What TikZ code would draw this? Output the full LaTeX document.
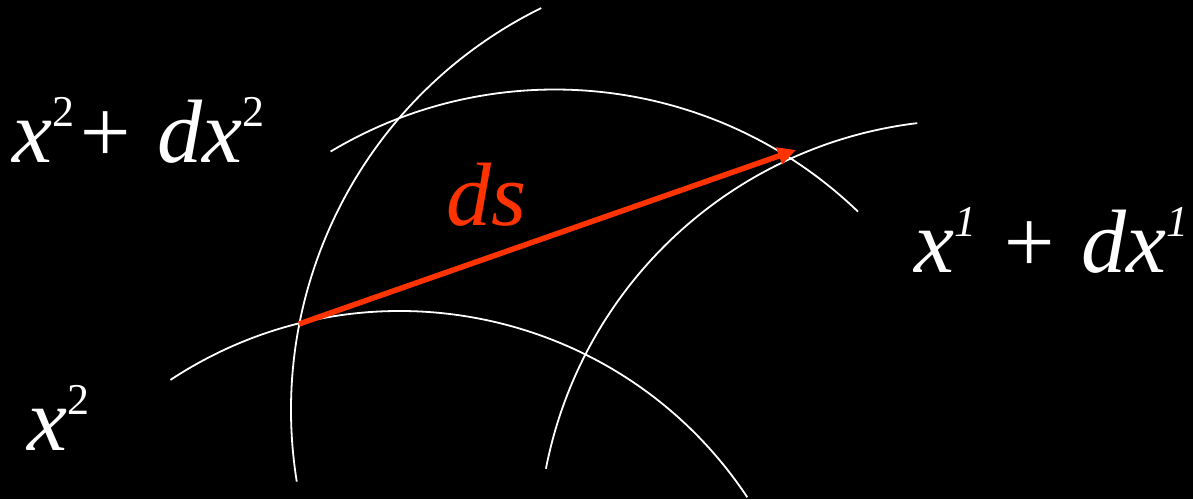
\documentclass[tikz,border=0pt]{standalone}
\usepackage{fontspec}
\setmainfont{Liberation Serif}
\usetikzlibrary{arrows.meta}
\definecolor{dsred}{RGB}{255,51,0}
\newcommand{\supr}[1]{\raisebox{36pt}{\fontsize{44}{44}\selectfont #1}}

\begin{document}
\begin{tikzpicture}[x=1pt, y=1pt,
    curve/.style={white, line width=1.8pt},
    lbl/.style={white, inner sep=0pt, anchor=base west, font=\fontsize{90}{100}\selectfont\itshape}]
    \fill[black] (0,0) rectangle (1193,499);
    \useasboundingbox (0,0) rectangle (1193,499);
    \draw[curve] (739,89) ++(116.2:448pt) arc[start angle=116.2, end angle=189.2, radius=448pt];
    \draw[curve] (969,-52) ++(96.9:431pt) arc[start angle=96.9, end angle=169, radius=431pt];
    \draw[curve] (555,-27.5) ++(120.9:437pt) arc[start angle=120.9, end angle=46.1, radius=437pt];
    \draw[curve] (400,-229) ++(123.4:417pt) arc[start angle=123.4, end angle=33.6, radius=417pt];
    \coordinate (P) at (299,175);
    \coordinate (Q) at (796,349);
    \draw[dsred, line width=5.5pt, -{Triangle[length=18pt, width=17pt]}] (P) -- (Q);
    \node[lbl] (top) at (12,337) {x\supr{\upshape 2}+ dx\supr{\upshape 2}};
    \node[lbl] (right) at (914,227) {x\supr{1} + dx\supr{1}};
    \node[lbl] (bottom) at (27,49) {x\supr{\upshape 2}};
    \node[lbl, text=dsred] (ds) at (446,274) {ds};
\end{tikzpicture}
\end{document}
